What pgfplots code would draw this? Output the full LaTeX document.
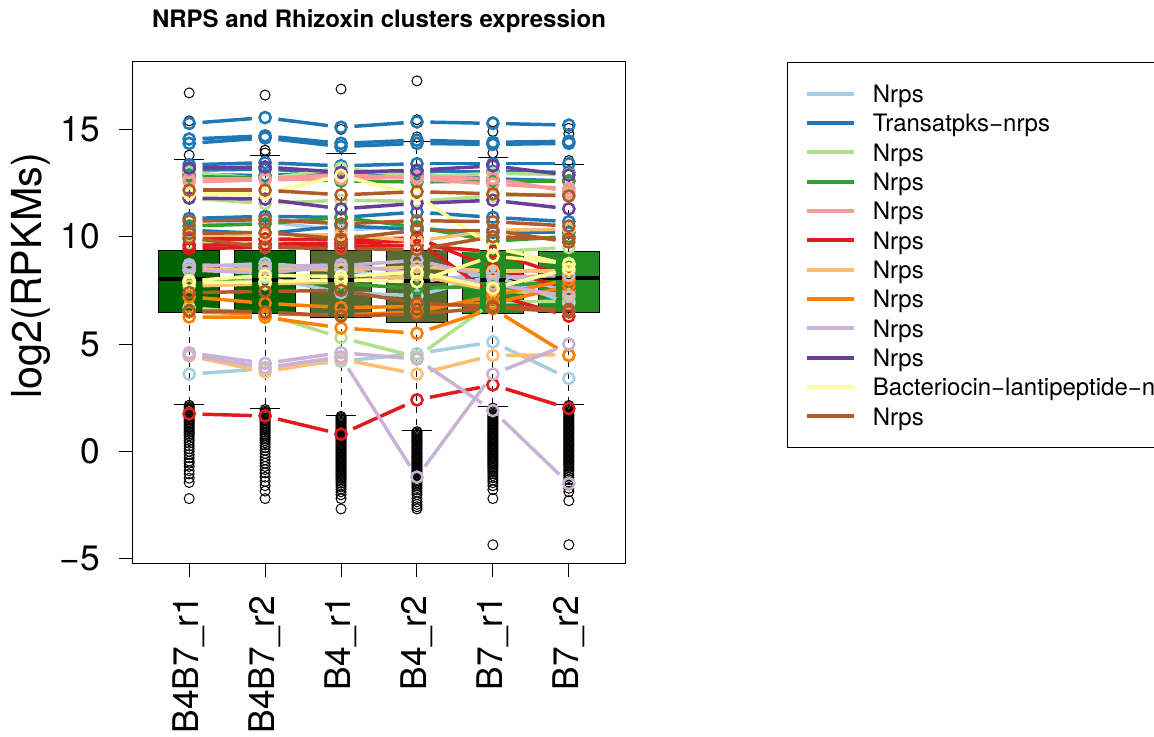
\documentclass[border=0pt]{standalone}
\usepackage{fontspec}
\setmainfont{TeX Gyre Heros}
\usepackage{pgfplots}
\usepackage{pgfplotstable}
\pgfplotsset{compat=1.18}

% Paired palette, one colour per cluster
\definecolor{cA}{HTML}{A6CEE3}
\definecolor{cB}{HTML}{1F78B4}
\definecolor{cC}{HTML}{B2DF8A}
\definecolor{cD}{HTML}{33A02C}
\definecolor{cE}{HTML}{FB9A99}
\definecolor{cF}{HTML}{E31A1C}
\definecolor{cG}{HTML}{FDBF6F}
\definecolor{cH}{HTML}{FF7F00}
\definecolor{cI}{HTML}{CAB2D6}
\definecolor{cJ}{HTML}{6A3D9A}
\definecolor{cK}{HTML}{FFFF99}
\definecolor{cL}{HTML}{B15928}
% box fills per condition
\definecolor{boxA}{HTML}{006400}
\definecolor{boxB}{HTML}{556B2F}
\definecolor{boxC}{HTML}{228B22}

% log2(RPKM) of cluster genes; columns a..f = B4B7_r1, B4B7_r2, B4_r1, B4_r2, B7_r1, B7_r2
\pgfplotstableread{
a b c d e f
3.60 3.85 4.20 4.55 5.10 3.40
8.60 8.75 8.50 7.90 8.30 7.50
10.50 10.70 10.30 10.50 9.90 10.00
7.90 8.10 7.40 7.25 8.20 6.90
}\clustA
\pgfplotstableread{
a b c d e f
15.28 15.55 15.10 15.35 15.28 15.20
14.55 14.70 14.35 14.50 14.40 14.45
14.35 14.60 14.20 14.35 14.30 14.35
13.35 13.45 13.30 13.40 13.40 13.40
13.10 13.15 12.95 13.05 13.05 13.00
12.90 12.85 13.00 12.90 12.70 12.60
10.85 10.95 10.90 11.15 10.90 10.70
10.30 10.15 10.50 10.35 10.20 10.20
}\clustB
\pgfplotstableread{
a b c d e f
13.00 12.70 13.20 12.80 12.95 12.90
11.80 11.55 11.70 11.65 11.90 12.00
6.70 6.40 5.30 4.40 6.95 7.00
9.70 9.80 9.60 9.50 9.30 9.50
}\clustC
\pgfplotstableread{
a b c d e f
12.80 12.75 12.60 12.55 12.60 12.60
10.50 10.60 10.90 10.45 9.80 10.00
8.00 7.90 7.80 7.60 7.70 7.90
}\clustD
\pgfplotstableread{
a b c d e f
12.70 12.70 12.90 12.70 12.45 12.25
12.55 12.65 12.70 12.80 12.70 12.10
}\clustE
\pgfplotstableread{
a b c d e f
1.75 1.65 0.80 2.40 3.10 2.00
9.90 9.90 9.85 9.95 8.55 7.60
9.60 9.65 9.70 9.80 7.30 6.30
9.45 9.50 9.55 9.60 9.30 8.10
}\clustF
\pgfplotstableread{
a b c d e f
4.45 3.70 4.30 3.60 4.47 4.50
8.45 8.50 8.45 8.60 8.40 8.40
10.05 10.10 10.10 9.80 10.30 10.35
7.70 7.80 7.90 8.20 7.50 7.30
}\clustG
\pgfplotstableread{
a b c d e f
7.20 6.90 6.70 6.75 6.90 7.70
6.26 6.25 5.75 5.50 6.65 4.47
6.50 6.40 6.35 6.50 7.25 8.00
}\clustH
\pgfplotstableread{
a b c d e f
4.60 4.10 4.60 4.30 1.90 -1.50
4.50 3.90 4.40 -1.20 3.60 5.00
8.45 8.30 8.65 8.90 8.10 8.20
8.70 8.60 8.70 8.30 7.80 7.20
}\clustI
\pgfplotstableread{
a b c d e f
13.20 13.25 13.00 13.10 13.30 12.87
11.80 11.75 11.30 11.55 11.70 11.30
}\clustJ
\pgfplotstableread{
a b c d e f
12.00 12.00 12.85 11.94 9.50 8.70
7.95 8.20 8.15 8.35 7.60 8.50
7.85 7.90 8.00 7.90 9.10 8.75
}\clustK
\pgfplotstableread{
a b c d e f
12.17 12.17 11.95 12.10 12.00 11.90
10.72 10.80 10.60 10.75 10.70 10.50
10.15 10.20 9.90 10.30 10.30 9.75
9.95 9.50 9.45 9.40 10.00 9.90
7.40 7.45 7.50 6.90 6.75 6.60
6.55 6.50 6.30 6.40 6.70 6.50
}\clustL

\pgfplotsset{
  gap line/.style={forget plot, draw=#1, line width=2.6pt,
    shorten <=10pt, shorten >=10pt},
  gene pt/.style={forget plot, only marks, mark=o, mark size=4.2pt, draw=#1,
    mark options={line width=1.9pt}},
}
% open circles of one cluster at one sample
\newcommand{\points}[4]{%
  \addplot[gene pt=#2] table[x expr=#4, y=#3] {#1};
}
% every gene of a cluster: segments between neighbouring samples (gap at
% each circle), then the circles
\newcommand{\drawcluster}[2]{%
  \pgfplotstablegetrowsof{#1}%
  \pgfmathtruncatemacro{\lastrow}{\pgfplotsretval-1}%
  \pgfplotsforeachungrouped \rowidx in {0,...,\lastrow}{%
    \pgfplotstablegetelem{\rowidx}{a}\of#1\let\va=\pgfplotsretval
    \pgfplotstablegetelem{\rowidx}{b}\of#1\let\vb=\pgfplotsretval
    \pgfplotstablegetelem{\rowidx}{c}\of#1\let\vc=\pgfplotsretval
    \pgfplotstablegetelem{\rowidx}{d}\of#1\let\vd=\pgfplotsretval
    \pgfplotstablegetelem{\rowidx}{e}\of#1\let\ve=\pgfplotsretval
    \pgfplotstablegetelem{\rowidx}{f}\of#1\let\vf=\pgfplotsretval
    \edef\gene{%
      \noexpand\addplot[gap line=#2] coordinates {(1,\va) (2,\vb)};%
      \noexpand\addplot[gap line=#2] coordinates {(2,\vb) (3,\vc)};%
      \noexpand\addplot[gap line=#2] coordinates {(3,\vc) (4,\vd)};%
      \noexpand\addplot[gap line=#2] coordinates {(4,\vd) (5,\ve)};%
      \noexpand\addplot[gap line=#2] coordinates {(5,\ve) (6,\vf)};%
    }%
    \gene
  }%
  \points{#1}{#2}{a}{1}\points{#1}{#2}{b}{2}\points{#1}{#2}{c}{3}%
  \points{#1}{#2}{d}{4}\points{#1}{#2}{e}{5}\points{#1}{#2}{f}{6}%
}

\begin{document}
\begin{tikzpicture}
\path[use as bounding box] (-99.75pt,-129.75pt) rectangle (765.75pt,422.25pt);
\clip (-99.75pt,-129.75pt) rectangle (765.75pt,422.25pt);
\begin{axis}[
  at={(0pt,0pt)}, anchor=south west,
  scale only axis, width=369pt, height=375.75pt,
  xmin=0.26, xmax=6.74, ymin=-5.2, ymax=18.14,
  xtick={1,2,3,4,5,6},
  xticklabels={B4B7\_r1,B4B7\_r2,B4\_r1,B4\_r2,B7\_r1,B7\_r2},
  ytick={-5,0,5,10,15},
  yticklabels={−5,0,5,10,15},
  tick align=outside, tick pos=left,
  major tick length=10.5pt,
  every tick/.style={black, line width=0.75pt},
  axis line style={line width=0.75pt},
  tick label style={font=\fontsize{26.5}{30}\selectfont, inner sep=0pt},
  xticklabel style={rotate=90, anchor=east},
  yticklabel style={anchor=east},
  xticklabel shift=14pt, yticklabel shift=14pt,
  ylabel={log2(RPKMs)},
  ylabel style={font=\fontsize{31}{35}\selectfont,
    at={(axis description cs:-0.2073,0.5729)}, anchor=center},
  title={NRPS and Rhizoxin clusters expression},
  title style={font=\bfseries\fontsize{18}{21}\selectfont,
    at={(axis description cs:0.5,1)}, anchor=base, yshift=20pt},
  legend style={at={(axis description cs:1.3293,1)}, anchor=north west,
    draw=black, line width=0.75pt, font=\fontsize{18}{22}\selectfont,
    inner xsep=12.75pt, inner ysep=12pt, row sep=-0.5pt, column sep=13pt,
    nodes={inner sep=0pt, text height=18pt, text depth=4.5pt}},
  legend cell align=left,
  legend image code/.code={\draw[#1, line width=3pt] (0pt,0pt) -- (35.25pt,0pt);},
]
% boxes
\addplot[forget plot, fill=boxA, draw=black, line width=0.75pt] coordinates {(0.6,6.47) (1.4,6.47) (1.4,9.34) (0.6,9.34)} -- cycle;
\addplot[forget plot, fill=boxA, draw=black, line width=0.75pt] coordinates {(1.6,6.42) (2.4,6.42) (2.4,9.36) (1.6,9.36)} -- cycle;
\addplot[forget plot, fill=boxB, draw=black, line width=0.75pt] coordinates {(2.6,6.26) (3.4,6.26) (3.4,9.34) (2.6,9.34)} -- cycle;
\addplot[forget plot, fill=boxB, draw=black, line width=0.75pt] coordinates {(3.6,6.00) (4.4,6.00) (4.4,9.37) (3.6,9.37)} -- cycle;
\addplot[forget plot, fill=boxC, draw=black, line width=0.75pt] coordinates {(4.6,6.42) (5.4,6.42) (5.4,9.34) (4.6,9.34)} -- cycle;
\addplot[forget plot, fill=boxC, draw=black, line width=0.75pt] coordinates {(5.6,6.47) (6.4,6.47) (6.4,9.29) (5.6,9.29)} -- cycle;
% medians
\addplot[forget plot, black, line width=3pt, unbounded coords=jump] coordinates {
  (0.6,8.02) (1.4,8.02) (1.5,inf) (1.6,8.00) (2.4,8.00) (2.5,inf)
  (2.6,8.00) (3.4,8.00) (3.5,inf) (3.6,7.94) (4.4,7.94) (4.5,inf)
  (4.6,7.97) (5.4,7.97) (5.5,inf) (5.6,8.06) (6.4,8.06)};
% whiskers
\addplot[forget plot, black, line width=0.75pt, dash pattern=on 4.5pt off 4.5pt, unbounded coords=jump] coordinates {
  (1,9.34) (1,13.60) (1,inf) (1,6.47) (1,2.19) (1.5,inf)
  (2,9.36) (2,13.77) (2,inf) (2,6.42) (2,2.00) (2.5,inf)
  (3,9.34) (3,13.88) (3,inf) (3,6.26) (3,1.69) (3.5,inf)
  (4,9.37) (4,14.42) (4,inf) (4,6.00) (4,0.95) (4.5,inf)
  (5,9.34) (5,13.69) (5,inf) (5,6.42) (5,2.07) (5.5,inf)
  (6,9.29) (6,13.38) (6,inf) (6,6.47) (6,2.19)};
% staples
\addplot[forget plot, black, line width=0.75pt, unbounded coords=jump] coordinates {
  (0.8,13.60) (1.2,13.60) (1,inf) (0.8,2.19) (1.2,2.19) (1.5,inf)
  (1.8,13.77) (2.2,13.77) (2,inf) (1.8,2.00) (2.2,2.00) (2.5,inf)
  (2.8,13.88) (3.2,13.88) (3,inf) (2.8,1.69) (3.2,1.69) (3.5,inf)
  (3.8,14.42) (4.2,14.42) (4,inf) (3.8,0.95) (4.2,0.95) (4.5,inf)
  (4.8,13.69) (5.2,13.69) (5,inf) (4.8,2.07) (5.2,2.07) (5.5,inf)
  (5.8,13.38) (6.2,13.38) (6,inf) (5.8,2.19) (6.2,2.19)};
% outliers
\pgfplotsset{outl/.style={forget plot, only marks, mark=o, mark size=3.75pt, black, mark options={line width=0.75pt}}}
\addplot[outl] table[x expr=1, y index=0, header=false, row sep=\\] {16.7\\15.4\\13.8\\2.15\\2.08\\2.02\\1.95\\1.90\\1.83\\1.77\\1.70\\1.64\\1.58\\1.51\\1.45\\1.38\\1.31\\1.25\\1.18\\1.10\\1.03\\0.95\\0.88\\0.80\\0.72\\0.60\\0.50\\0.38\\0.25\\0.12\\0.00\\-0.15\\-0.30\\-0.45\\-0.55\\-0.70\\-0.90\\-1.05\\-1.25\\-1.45\\-2.20\\};
\addplot[outl] table[x expr=2, y index=0, header=false, row sep=\\] {16.6\\14.03\\13.9\\1.95\\1.88\\1.82\\1.75\\1.68\\1.62\\1.55\\1.48\\1.42\\1.35\\1.28\\1.20\\1.13\\1.05\\0.98\\0.90\\0.82\\0.75\\0.66\\0.58\\0.50\\0.40\\0.30\\0.18\\0.05\\-0.10\\-0.25\\-0.40\\-0.55\\-0.70\\-0.85\\-1.00\\-1.20\\-1.40\\-1.60\\-1.85\\-2.20\\};
\addplot[outl] table[x expr=3, y index=0, header=false, row sep=\\] {16.88\\15.0\\1.63\\1.58\\1.52\\1.47\\1.41\\1.35\\1.30\\1.24\\1.18\\1.13\\1.07\\1.01\\0.96\\0.90\\0.84\\0.79\\0.73\\0.67\\0.62\\0.56\\0.50\\0.45\\0.39\\0.33\\0.28\\0.22\\0.16\\0.11\\0.05\\-0.01\\-0.06\\-0.12\\-0.18\\-0.23\\-0.29\\-0.35\\-0.40\\-0.46\\-0.52\\-0.57\\-0.63\\-0.69\\-0.74\\-0.80\\-0.86\\-0.91\\-0.97\\-1.03\\-1.08\\-1.14\\-1.20\\-1.26\\-1.33\\-1.40\\-1.48\\-1.57\\-1.66\\-1.76\\-1.88\\-2.02\\-2.20\\-2.68\\};
\addplot[outl] table[x expr=4, y index=0, header=false, row sep=\\] {17.26\\15.45\\14.65\\0.92\\0.86\\0.80\\0.75\\0.69\\0.63\\0.58\\0.52\\0.46\\0.41\\0.35\\0.29\\0.24\\0.18\\0.12\\0.07\\0.01\\-0.05\\-0.10\\-0.16\\-0.22\\-0.27\\-0.33\\-0.39\\-0.44\\-0.50\\-0.56\\-0.61\\-0.67\\-0.73\\-0.78\\-0.84\\-0.90\\-0.95\\-1.01\\-1.07\\-1.12\\-1.18\\-1.24\\-1.30\\-1.37\\-1.44\\-1.52\\-1.60\\-1.69\\-1.79\\-1.90\\-2.02\\-2.20\\-2.35\\-2.47\\-2.58\\-2.68\\};
\addplot[outl] table[x expr=5, y index=0, header=false, row sep=\\] {15.35\\14.9\\13.9\\2.02\\1.96\\1.90\\1.85\\1.79\\1.73\\1.68\\1.62\\1.56\\1.51\\1.45\\1.39\\1.34\\1.28\\1.22\\1.17\\1.11\\1.05\\1.00\\0.94\\0.88\\0.83\\0.77\\0.71\\0.66\\0.60\\0.54\\0.49\\0.43\\0.37\\0.32\\0.26\\0.20\\0.15\\0.09\\0.03\\-0.02\\-0.08\\-0.14\\-0.19\\-0.25\\-0.31\\-0.36\\-0.42\\-0.48\\-0.53\\-0.59\\-0.65\\-0.72\\-0.79\\-0.87\\-0.95\\-1.04\\-1.13\\-1.23\\-1.34\\-1.46\\-1.60\\-1.78\\-2.20\\-4.35\\};
\addplot[outl] table[x expr=6, y index=0, header=false, row sep=\\] {15.05\\14.8\\13.55\\2.14\\2.08\\2.02\\1.97\\1.91\\1.85\\1.80\\1.74\\1.68\\1.63\\1.57\\1.51\\1.46\\1.40\\1.34\\1.29\\1.23\\1.17\\1.12\\1.06\\1.00\\0.95\\0.89\\0.83\\0.78\\0.72\\0.66\\0.61\\0.55\\0.49\\0.44\\0.38\\0.32\\0.27\\0.21\\0.15\\0.10\\0.04\\-0.02\\-0.07\\-0.13\\-0.19\\-0.24\\-0.30\\-0.36\\-0.41\\-0.47\\-0.53\\-0.58\\-0.64\\-0.70\\-0.77\\-0.85\\-0.93\\-1.02\\-1.11\\-1.21\\-1.32\\-1.44\\-1.57\\-1.72\\-1.88\\-2.30\\-4.35\\};
% cluster genes
\drawcluster{\clustA}{cA}
\drawcluster{\clustB}{cB}
\drawcluster{\clustC}{cC}
\drawcluster{\clustD}{cD}
\drawcluster{\clustE}{cE}
\drawcluster{\clustF}{cF}
\drawcluster{\clustG}{cG}
\drawcluster{\clustH}{cH}
\drawcluster{\clustI}{cI}
\drawcluster{\clustJ}{cJ}
\drawcluster{\clustK}{cK}
\drawcluster{\clustL}{cL}
% legend
\addlegendimage{cA}\addlegendentry{Nrps}
\addlegendimage{cB}\addlegendentry{Transatpks−nrps}
\addlegendimage{cC}\addlegendentry{Nrps}
\addlegendimage{cD}\addlegendentry{Nrps}
\addlegendimage{cE}\addlegendentry{Nrps}
\addlegendimage{cF}\addlegendentry{Nrps}
\addlegendimage{cG}\addlegendentry{Nrps}
\addlegendimage{cH}\addlegendentry{Nrps}
\addlegendimage{cI}\addlegendentry{Nrps}
\addlegendimage{cJ}\addlegendentry{Nrps}
\addlegendimage{cK}\addlegendentry{Bacteriocin−lantipeptide−nrps}
\addlegendimage{cL}\addlegendentry{Nrps}
\end{axis}
\end{tikzpicture}
\end{document}
